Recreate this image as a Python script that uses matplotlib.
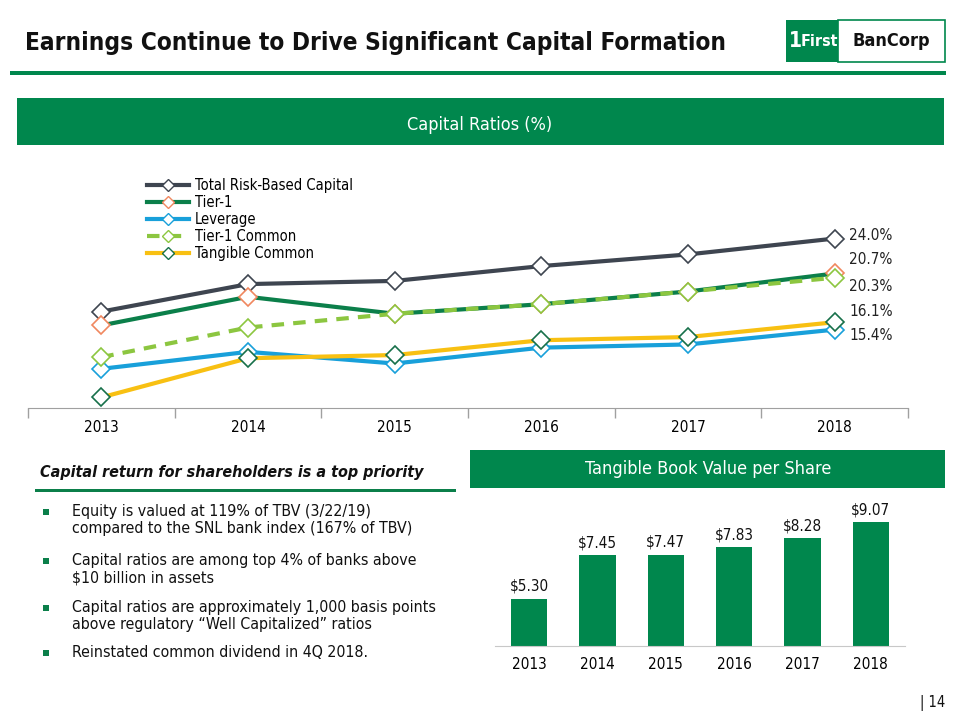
import matplotlib
matplotlib.use('Agg')
import matplotlib.pyplot as plt
from matplotlib.patches import Rectangle
from matplotlib.lines import Line2D

# data
years = ['2013', '2014', '2015', '2016', '2017', '2018']
total_rbc = [17.1, 19.7, 20.0, 21.4, 22.5, 24.0]
tier1 = [15.8, 18.5, 16.9, 17.8, 19.0, 20.7]
leverage = [11.7, 13.3, 12.2, 13.7, 14.0, 15.4]
tier1_common = [12.8, 15.6, 16.9, 17.8, 19.0, 20.3]
tangible_common = [9.0, 12.7, 13.0, 14.4, 14.7, 16.1]
end_labels = ['24.0%', '20.7%', '20.3%', '16.1%', '15.4%']
tbv = [5.30, 7.45, 7.47, 7.83, 8.28, 9.07]
bullets = [
    'Equity is valued at 119% of TBV (3/22/19)\ncompared to the SNL bank index (167% of TBV)',
    'Capital ratios are among top 4% of banks above\n$10 billion in assets',
    'Capital ratios are approximately 1,000 basis points\nabove regulatory \u201cWell Capitalized\u201d ratios',
    'Reinstated common dividend in 4Q 2018.',
]

GREEN = '#00874D'
plt.rcParams['font.family'] = ['DejaVu Sans']
FONT = dict(family='DejaVu Sans', stretch='condensed')

W, H = 960, 720
fig = plt.figure(figsize=(9.6, 7.2), dpi=100)

def fx(x):
    return x / W

def fy(y):
    return 1 - y / H

def box(x0, y0, x1, y1, **kw):
    fig.patches.append(Rectangle((fx(x0), fy(y1)), fx(x1 - x0), (y1 - y0) / H,
                                 transform=fig.transFigure, **kw))

def axes_px(x0, y0, x1, y1):
    return fig.add_axes([fx(x0), fy(y1), fx(x1 - x0), (y1 - y0) / H])

# header
fig.text(fx(25), fy(43), 'Earnings Continue to Drive Significant Capital Formation',
         fontsize=17.5, fontweight='bold', color='#111111', va='center', **FONT)
box(10, 71, 946, 75, color=GREEN, lw=0)
box(786, 20, 838, 62, color=GREEN, lw=0)
box(838, 20, 945, 62, facecolor='white', edgecolor=GREEN, lw=1.2)
fig.text(fx(795), fy(41), '1', color='white', fontsize=15, fontweight='bold',
         ha='center', va='center', **FONT)
fig.text(fx(819), fy(42), 'First', color='white', fontsize=11.5, fontweight='bold',
         ha='center', va='center', **FONT)
fig.text(fx(891), fy(41), 'BanCorp', color='#111111', fontsize=13, fontweight='bold',
         ha='center', va='center', **FONT)

# banner for capital ratios
box(17, 98, 944, 145, color=GREEN, lw=0)
fig.text(fx(480), fy(125), 'Capital Ratios (%)', color='white', fontsize=13,
         ha='center', va='center', **FONT)

# line chart
ax = axes_px(28, 175, 908, 408)
x = range(len(years))
series = [
    ('Total Risk-Based Capital', total_rbc, '#3E4550', '#3E4550', '-'),
    ('Tier-1', tier1, '#0B7F4A', '#F0875F', '-'),
    ('Leverage', leverage, '#18A0DA', '#18A0DA', '-'),
    ('Tier-1 Common', tier1_common, '#8CC640', '#8CC640', (0, (3, 2.2))),
    ('Tangible Common', tangible_common, '#F8C012', '#17704A', '-'),
]
draw_order = [0, 1, 3, 2, 4]
for i in draw_order:
    name, vals, c, mc, ls = series[i]
    ax.plot(x, vals, color=c, lw=3.0, ls=ls, marker='D', markersize=9,
            markerfacecolor='white', markeredgecolor=mc, markeredgewidth=1.2,
            zorder=3 + i * 0.1)
ax.set_xlim(-0.5, 5.5)
ax.set_ylim(8, 30)
ax.set_yticks([])
ax.set_xticks(list(x))
ax.set_xticklabels(years, fontsize=11, **FONT)
ax.set_xticks([i - 0.5 for i in range(7)], minor=True)
ax.tick_params(axis='x', which='major', length=0, pad=9)
ax.tick_params(axis='x', which='minor', length=7, color='#A0A0A0', width=1)
for s in ['top', 'right', 'left']:
    ax.spines[s].set_visible(False)
ax.spines['bottom'].set_color('#A0A0A0')
for lab, yv, dy in zip(end_labels, [24.0, 20.7, 20.3, 16.1, 15.4], [0.3, 1.3, -0.8, 1.0, -0.6]):
    ax.text(5.1, yv + dy, lab, fontsize=11, color='#222222', va='center', **FONT)

handles = [Line2D([], [], color=c, lw=3.0, ls=ls, marker='D', markersize=6,
                  markerfacecolor='white', markeredgecolor=mc, markeredgewidth=1.0)
           for name, vals, c, mc, ls in series]
leg = ax.legend(handles, [s[0] for s in series], loc='upper left',
                bbox_to_anchor=(0.12, 1.045), frameon=False,
                handlelength=2.9, labelspacing=0.15, handletextpad=0.4,
                prop=dict(size=10.5, **FONT))

# left text block
fig.text(fx(40), fy(472), 'Capital return for shareholders is a top priority',
         fontsize=11.5, fontweight='bold', style='italic', color='#111111',
         va='center', **FONT)
box(35, 489, 456, 492, color='#0B7F4A', lw=0)
bullet_y = [512, 561, 608, 653]
for by, txt in zip(bullet_y, bullets):
    box(43, by - 3, 49, by + 3, color='#0B7F4A', lw=0)
    fig.text(fx(72), fy(by - 8), txt, fontsize=11.4, color='#111111', va='top',
             linespacing=1.2, **FONT)

# banner for TBV
box(470, 450, 945, 488, color=GREEN, lw=0)
fig.text(fx(708), fy(469), 'Tangible Book Value per Share', color='white',
         fontsize=13, ha='center', va='center', **FONT)

# bar chart
bx = axes_px(495, 500, 905, 646)
bx.bar(range(len(years)), tbv, width=0.53, color='#00874D', zorder=2)
bx.set_xlim(-0.5, 5.5)
bx.set_ylim(3, 3 + 146 / 20.4)
bx.set_yticks([])
bx.set_xticks(range(len(years)))
bx.set_xticklabels(years, fontsize=11, **FONT)
bx.tick_params(axis='x', length=0, pad=8)
for s in ['top', 'right', 'left']:
    bx.spines[s].set_visible(False)
bx.spines['bottom'].set_color('#C8C8C8')
for i, v in enumerate(tbv):
    bx.text(i, v + 0.25, f'${v:.2f}', ha='center', va='bottom', fontsize=11,
            color='#111111', **FONT)

fig.text(fx(945), fy(703), '| 14', fontsize=10.5, ha='right', va='center',
         color='#111111', **FONT)

fig.savefig('out.png', dpi=100)
